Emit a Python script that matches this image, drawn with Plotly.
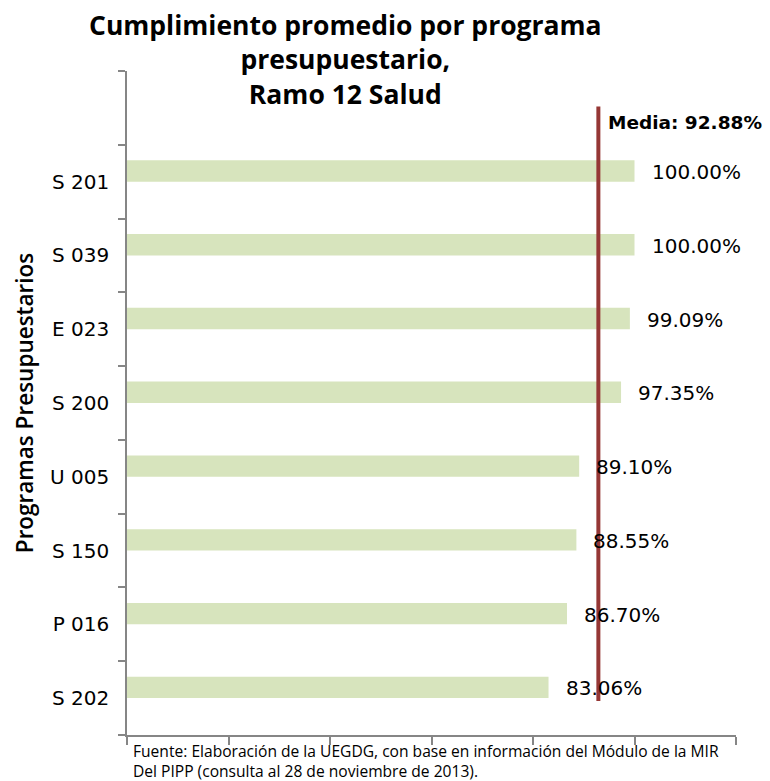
import plotly.graph_objects as go

programas = ["S 202", "P 016", "S 150", "U 005", "S 200", "E 023", "S 039", "S 201"]
cumplimiento = [83.06, 86.70, 88.55, 89.10, 97.35, 99.09, 100.00, 100.00]
media = 92.88
media_y = [-0.04, 8.02]
x_ticks = [0, 20, 40, 60, 80, 100, 120]

pos = list(range(len(programas)))
LABEL_FONT = "DejaVu Sans"
TEXT_FONT = "Open Sans"
BAR_W = 0.29

fig = go.Figure()
fig.add_trace(go.Bar(
    x=cumplimiento, y=pos, orientation="h", width=BAR_W, offset=0,
    marker=dict(color="#d7e4bd", line=dict(width=0)),
    hoverinfo="skip", showlegend=False,
))
fig.add_trace(go.Scatter(
    x=[media, media], y=media_y, mode="lines",
    line=dict(color="#953735", width=4),
    hoverinfo="skip", showlegend=False,
))

for v, p in zip(cumplimiento, pos):
    fig.add_annotation(x=v, y=p + BAR_W / 2, text=f"{v:.2f}%", showarrow=False,
                       xanchor="left", yanchor="middle", xshift=15, yshift=-1,
                       font=dict(family=LABEL_FONT, size=20, color="#000000"))

fig.add_annotation(x=media, y=media_y[1], text=f"<b>Media: {media:.2f}%</b>", showarrow=False,
                   xanchor="left", yanchor="middle", xshift=8, yshift=-16,
                   font=dict(family=LABEL_FONT, size=18.5, color="#000000"))

fig.add_annotation(xref="paper", yref="paper", x=0.358, y=1.0994,
                   xanchor="center", yanchor="top", align="center", showarrow=False,
                   text="<b>Cumplimiento promedio por programa<br>presupuestario,<br>Ramo 12 Salud</b>",
                   font=dict(family=TEXT_FONT, size=26.5, color="#000000"))

fig.add_annotation(xref="paper", yref="paper", x=0.0066, y=-0.004,
                   xanchor="left", yanchor="top", align="left", showarrow=False,
                   text="Fuente: Elaboración de la UEGDG, con base en información del Módulo de la MIR<br>Del PIPP (consulta al 28 de noviembre de 2013).",
                   font=dict(family=TEXT_FONT, size=15.6, color="#000000"))

fig.update_layout(
    width=770, height=781,
    paper_bgcolor="white", plot_bgcolor="white",
    margin=dict(l=127, r=34, t=71, b=46),
    xaxis=dict(range=[0, 120], tickvals=x_ticks, showticklabels=False,
               ticks="outside", ticklen=8, tickcolor="#868686", tickwidth=1.5,
               showline=True, linecolor="#868686", linewidth=1.5,
               showgrid=False, zeroline=False, fixedrange=True),
    yaxis=dict(range=[-0.5, 8.5], tickvals=pos, ticktext=programas,
               ticks="", ticklabelstandoff=12,
               minor=dict(ticks="outside", tick0=-0.5, dtick=1, ticklen=7,
                          tickcolor="#868686", tickwidth=1.5, showgrid=False),
               showline=True, linecolor="#868686", linewidth=1.5,
               showgrid=False, zeroline=False, fixedrange=True,
               tickfont=dict(family=LABEL_FONT, size=20, color="#000000"),
               title=dict(text="Programas Presupuestarios", standoff=10,
                          font=dict(family=TEXT_FONT, size=22.5, weight=600, color="#000000"))),
)

fig.write_html("out.html", config={"displayModeBar": False},
               post_script="document.body.style.margin='0';")
